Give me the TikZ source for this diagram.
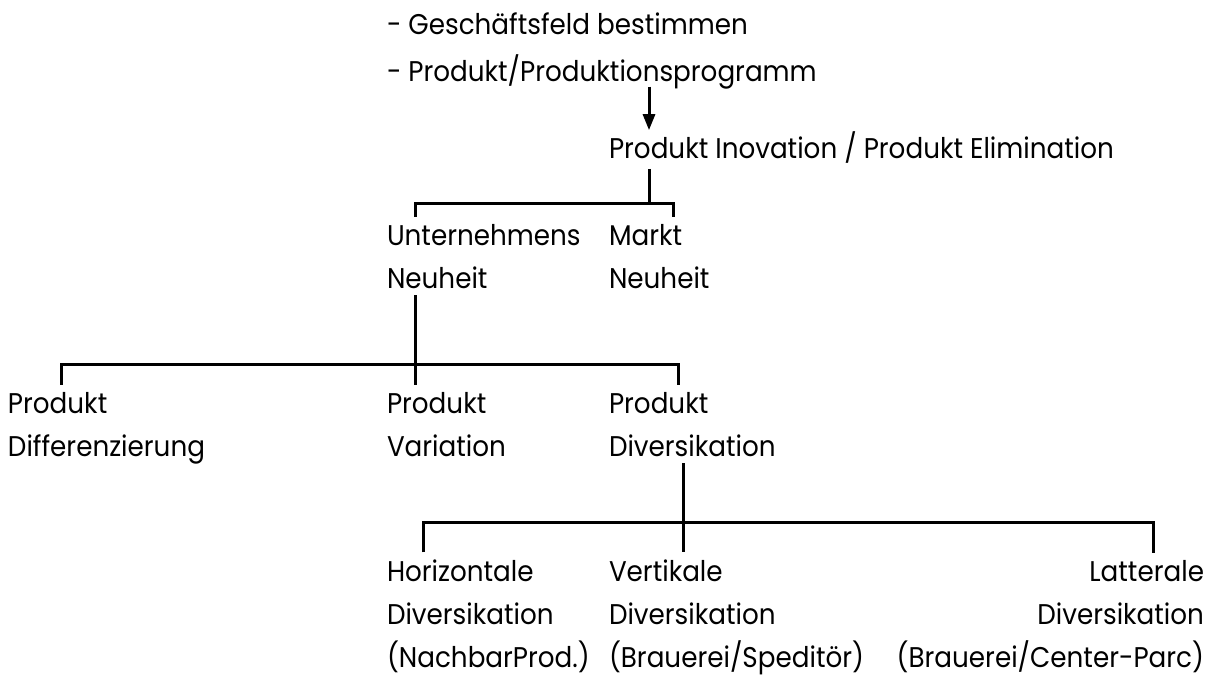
\documentclass[tikz,border=0pt]{standalone}
\usepackage{fontspec}
\setmainfont[FakeStretch=0.92]{Poppins}
\usetikzlibrary{arrows.meta}

\begin{document}
\begin{tikzpicture}[x=1pt,y=-1pt,
    txt/.style={inner sep=0pt,outer xsep=0pt,outer ysep=7pt,align=left,anchor=base west,
      font=\fontsize{28.5}{43}\selectfont},
    txtr/.style={txt,align=right,anchor=base east},
    ast/.style={line width=3pt}]
    \useasboundingbox (0,0) rectangle (1218,679);
    % anchor base = letzte Zeile
    \node[txt] (ziel) at (387,82) {- Geschäftsfeld bestimmen\\[4pt]- Produkt/Produktionsprogramm};
    \node[txt] (inno) at (609,159) {Produkt Inovation / Produkt Elimination};
    \node[txt] (unt) at (387,288) {Unternehmens\\Neuheit};
    \node[txt] (mkt) at (609,288) {Markt\\Neuheit};
    \node[txt] (pdiff) at (8,456) {Produkt\\Differenzierung};
    \node[txt] (pvar) at (387,456) {Produkt\\Variation};
    \node[txt] (pdiv) at (609,456) {Produkt\\Diversikation};
    \node[txt] (hor) at (387,667) {Horizontale\\Diversikation\\(NachbarProd.)};
    \node[txt] (vert) at (609,667) {Vertikale\\Diversikation\\(Brauerei/Speditör)};
    \node[txtr] (lat) at (1204,667) {Latterale\\Diversikation\\(Brauerei/Center-Parc)};
    % Verzweigungen
    \coordinate (b1) at (649,204);
    \coordinate (b2) at (415,364);
    \coordinate (b3) at (683,522);
    \draw[ast,-{Triangle[length=16pt,width=12pt]}] ([xshift=262pt,yshift=10pt]ziel.south west) -- ([xshift=40pt,yshift=-5pt]inno.north west);
    \draw[ast] ([xshift=40pt,yshift=2pt]inno.south west) -- (b1);
    \draw[ast] ([xshift=28pt]unt.north west) |- (b1) -| ([xshift=64pt]mkt.north west);
    \draw[ast] ([xshift=28pt]unt.south west) -- (b2);
    \draw[ast] ([xshift=53pt]pdiff.north west) |- (b2) -- ([xshift=28pt]pvar.north west);
    \draw[ast] (b2) -| ([xshift=69pt]pdiv.north west);
    \draw[ast] ([xshift=74pt]pdiv.south west) -- (b3);
    \draw[ast] ([xshift=36pt]hor.north west) |- (b3) -- ([xshift=74pt]vert.north west);
    \draw[ast] (b3) -| ([xshift=-51pt]lat.north east);
\end{tikzpicture}
\end{document}
